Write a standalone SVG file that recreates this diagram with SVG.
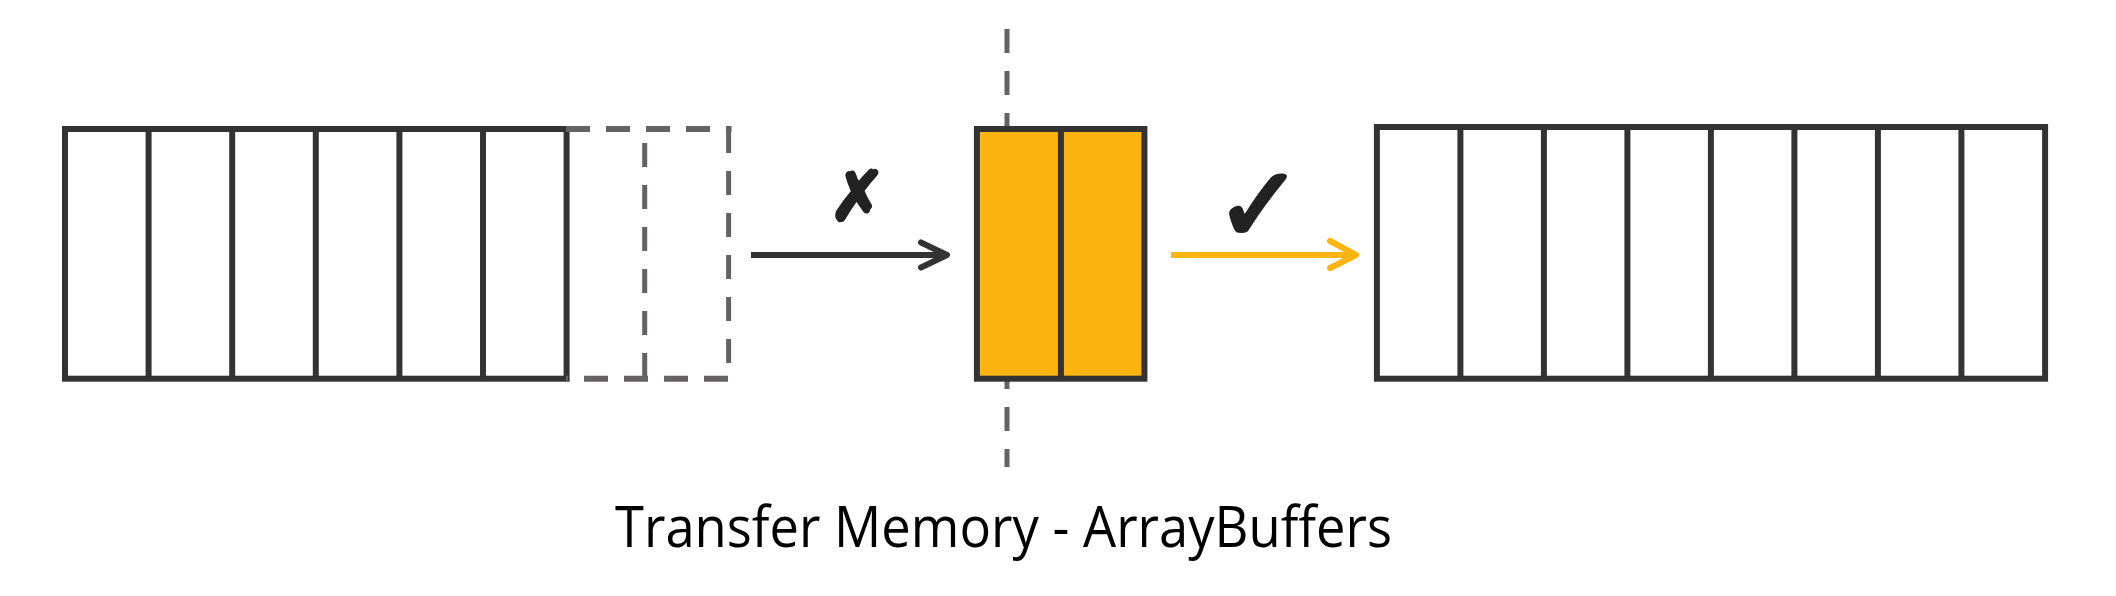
<svg xmlns="http://www.w3.org/2000/svg" width="2116" height="596" viewBox="0 0 2116 596">
<style>
.cell{fill:#ffffff;stroke:#333333;stroke-width:6}
.div{stroke:#333333;stroke-width:6}
.dash{stroke:#646262;stroke-width:5;fill:none;stroke-dasharray:24 18}
.dashh{stroke:#646262;stroke-width:6;fill:none;stroke-dasharray:24 16}
.mark{font-family:"DejaVu Sans",sans-serif;fill:#222222;stroke:#222222;stroke-linejoin:round;text-anchor:middle}
.title{font-family:"Open Sans","Liberation Sans",sans-serif;font-size:57px;fill:#000000}
</style>
<rect width="2116" height="596" fill="#ffffff"/>
<g id="divider-line">
<line class="dash" x1="1007" y1="29" x2="1007" y2="467"/>
</g>
<g id="source-buffer">
<rect class="cell" x="65" y="129" width="501.6" height="249.7"/>
<line class="div" x1="148.6" y1="129" x2="148.6" y2="378.7"/>
<line class="div" x1="232.2" y1="129" x2="232.2" y2="378.7"/>
<line class="div" x1="315.8" y1="129" x2="315.8" y2="378.7"/>
<line class="div" x1="399.4" y1="129" x2="399.4" y2="378.7"/>
<line class="div" x1="483" y1="129" x2="483" y2="378.7"/>
</g>
<g id="released-cells">
<line class="dashh" x1="566" y1="129" x2="731.5" y2="129"/>
<line class="dashh" x1="728" y1="378.7" x2="566" y2="378.7"/>
<line class="dash" x1="728.6" y1="129" x2="728.6" y2="378"/>
<line class="dash" x1="644.7" y1="143" x2="644.7" y2="378"/>
</g>
<g id="transferred-buffer">
<rect x="976.9" y="129" width="167.5" height="249.7" fill="#fcb410" stroke="#333333" stroke-width="6"/>
<line class="div" x1="1060.9" y1="129" x2="1060.9" y2="378.7"/>
</g>
<g id="target-buffer">
<rect class="cell" x="1376.9" y="127" width="668.2" height="251.7"/>
<line class="div" x1="1460.4" y1="127" x2="1460.4" y2="378.7"/>
<line class="div" x1="1543.9" y1="127" x2="1543.9" y2="378.7"/>
<line class="div" x1="1627.4" y1="127" x2="1627.4" y2="378.7"/>
<line class="div" x1="1710.9" y1="127" x2="1710.9" y2="378.7"/>
<line class="div" x1="1794.4" y1="127" x2="1794.4" y2="378.7"/>
<line class="div" x1="1877.9" y1="127" x2="1877.9" y2="378.7"/>
<line class="div" x1="1961.4" y1="127" x2="1961.4" y2="378.7"/>
</g>
<g id="connectors">
<line x1="751" y1="255" x2="946" y2="255" stroke="#333333" stroke-width="6"/>
<polyline points="921,242.5 947,255 921,267.5" fill="none" stroke="#333333" stroke-width="6" stroke-linecap="round" stroke-linejoin="round"/>
<line x1="1171" y1="255" x2="1355" y2="255" stroke="#fbb410" stroke-width="6"/>
<polyline points="1330,241 1356,255 1330,268" fill="none" stroke="#fbb410" stroke-width="6" stroke-linecap="round" stroke-linejoin="round"/>
</g>
<g id="labels">
<text class="mark" x="857.5" y="220" font-size="68" stroke-width="3.5">✗</text>
<text class="mark" x="1259" y="241" font-size="104" stroke-width="4">✓</text>
<text class="title" x="615" y="547" textLength="777" lengthAdjust="spacingAndGlyphs">Transfer Memory - ArrayBuffers</text>
</g>
</svg>
